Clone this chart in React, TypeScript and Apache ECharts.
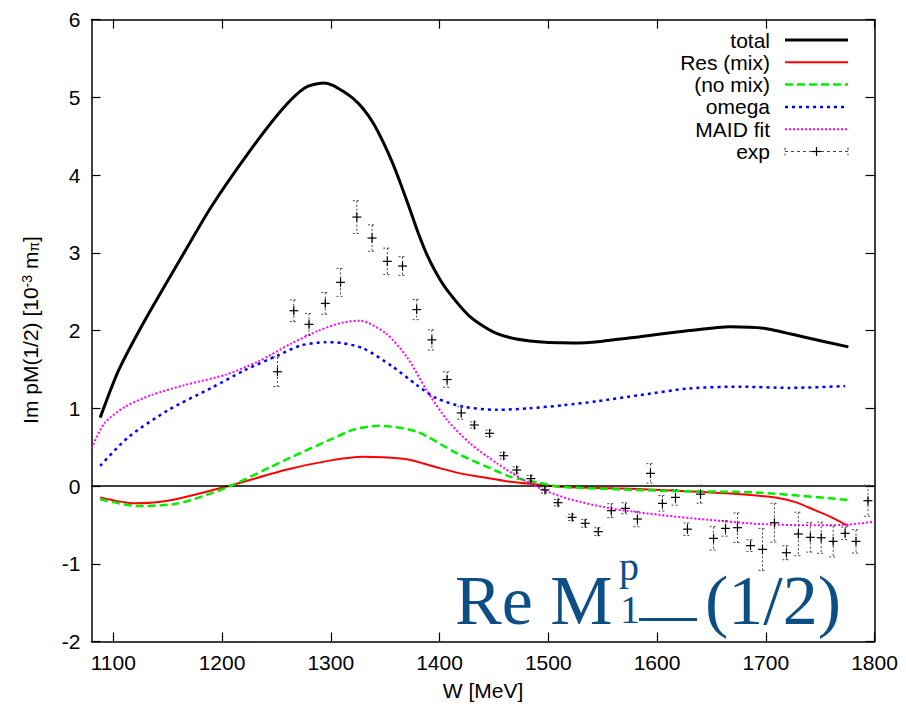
import React, { useEffect, useRef } from "react";
import * as echarts from "echarts";

const xTicks = [1100, 1200, 1300, 1400, 1500, 1600, 1700, 1800];
const yTicks = [-2, -1, 0, 1, 2, 3, 4, 5, 6];

const totalCurve = [
  [1088, 0.88], [1105, 1.49], [1129, 2.13], [1163, 2.95], [1190, 3.59], [1224, 4.28],
  [1255, 4.84], [1276, 5.12], [1293, 5.185], [1302, 5.155], [1311, 5.08], [1321, 4.98],
  [1330, 4.85], [1339, 4.67], [1348, 4.43], [1357, 4.15], [1365, 3.86], [1373, 3.55],
  [1380, 3.27], [1388, 2.99], [1397, 2.74], [1407, 2.52], [1428, 2.18],
  [1453, 1.96], [1483, 1.865], [1523, 1.84], [1548, 1.86], [1584, 1.92], [1630, 2.0],
  [1667, 2.05], [1698, 2.03], [1734, 1.92], [1776, 1.79],
];

const resMixCurve = [
  [1088, -0.146], [1120, -0.223], [1154, -0.18], [1206, 0.0], [1258, 0.206], [1300, 0.33],
  [1330, 0.377], [1348, 0.369], [1370, 0.343], [1385, 0.29], [1400, 0.23], [1419, 0.163],
  [1437, 0.12], [1465, 0.055],
  [1490, 0.02], [1511, -0.009], [1560, -0.03], [1603, -0.05], [1664, -0.094], [1710, -0.15],
  [1728, -0.21], [1745, -0.31], [1760, -0.4], [1776, -0.515],
];

const noMixCurve = [
  [1088, -0.171], [1123, -0.257], [1160, -0.223], [1206, -0.01], [1258, 0.334], [1300, 0.6],
  [1322, 0.73], [1344, 0.776], [1379, 0.7], [1416, 0.42], [1453, 0.19], [1465, 0.12],
  [1492, 0.04], [1511, -0.009], [1603, -0.06], [1695, -0.086], [1776, -0.18],
];

const omegaCurve = [
  [1088, 0.26], [1114, 0.63], [1151, 0.98], [1190, 1.26], [1221, 1.49], [1252, 1.685],
  [1273, 1.81], [1295, 1.85], [1310, 1.84], [1330, 1.77], [1357, 1.535], [1379, 1.3],
  [1397, 1.13], [1422, 1.02], [1453, 0.98], [1483, 1.0], [1514, 1.04], [1545, 1.09],
  [1584, 1.17], [1630, 1.256], [1676, 1.278], [1722, 1.262], [1773, 1.286],
];

const maidCurve = [
  [1080, 0.485], [1092, 0.81], [1111, 1.02], [1135, 1.17], [1166, 1.3], [1203, 1.43],
  [1233, 1.6], [1264, 1.835], [1289, 2.0], [1310, 2.1], [1327, 2.127], [1351, 1.96],
  [1370, 1.66], [1388, 1.235], [1407, 0.85], [1428, 0.55], [1453, 0.29], [1477, 0.08],
  [1499, -0.07], [1520, -0.17], [1557, -0.287], [1603, -0.373], [1649, -0.437],
  [1695, -0.489], [1741, -0.505], [1771, -0.5], [1800, -0.46],
];

// [W, value, error]
const expData = [
  [1251, 1.47, 0.19], [1266, 2.255, 0.14], [1280, 2.08, 0.14], [1295, 2.35, 0.14],
  [1309, 2.62, 0.18], [1324, 3.46, 0.21], [1338, 3.19, 0.17], [1352, 2.89, 0.17],
  [1366, 2.83, 0.12], [1379, 2.27, 0.13], [1393, 1.88, 0.13], [1407, 1.37, 0.1],
  [1420, 0.94, 0.08], [1432, 0.785, 0.04], [1446, 0.678, 0.04], [1459, 0.39, 0.04],
  [1471, 0.206, 0.04], [1484, 0.095, 0.04], [1497, -0.05, 0.04], [1509, -0.214, 0.04],
  [1522, -0.403, 0.04], [1534, -0.48, 0.05], [1546, -0.587, 0.05], [1558, -0.317, 0.09],
  [1571, -0.287, 0.07], [1582, -0.424, 0.1], [1594, 0.163, 0.125], [1605, -0.223, 0.1],
  [1617, -0.146, 0.1], [1628, -0.555, 0.08], [1640, -0.105, 0.115], [1652, -0.673, 0.15],
  [1663, -0.545, 0.1], [1674, -0.536, 0.19], [1686, -0.767, 0.075], [1697, -0.815, 0.27],
  [1708, -0.472, 0.25], [1719, -0.858, 0.09], [1730, -0.617, 0.28], [1741, -0.66, 0.19],
  [1751, -0.665, 0.2], [1762, -0.712, 0.2], [1773, -0.609, 0.08], [1783, -0.712, 0.15],
  [1794, -0.189, 0.2],
];

const legendNames = ["total", "Res (mix)", "(no mix)", "omega", "MAID fit", "exp"];

const FONT = "Liberation Sans, Arial, sans-serif";
const SERIF = "Liberation Serif, Times New Roman, serif";
const BLUE_TXT = "#0d4f85";

export default function App() {
  const ref = useRef<HTMLDivElement>(null);
  useEffect(() => {
    document.body.style.margin = "0";
    const chart = echarts.init(ref.current!, null, { renderer: "svg" });

    const lineStyles: any[] = [
      { color: "#000000", width: 3, type: "solid" },
      { color: "#ff0000", width: 2, type: "solid" },
      { color: "#00ee00", width: 2.5, type: [8, 4] },
      { color: "#0000ff", width: 2.5, type: [3, 4] },
      { color: "#ff00ff", width: 2, type: [2, 2] },
    ];
    const curves = [totalCurve, resMixCurve, noMixCurve, omegaCurve, maidCurve];

    const axisCommon = {
      type: "value",
      axisLine: { show: true, onZero: false, lineStyle: { color: "#000", width: 1.5 } },
      splitLine: { show: false },
    };

    const legendX = 770;
    const legendY0 = 40;
    const legendStep = 22.3;
    const legendGraphics: any[] = [];
    legendNames.forEach((name, i) => {
      const y = legendY0 + i * legendStep;
      legendGraphics.push({
        type: "text",
        x: legendX,
        y,
        style: { text: name, font: `21px ${FONT}`, fill: "#000", align: "right", verticalAlign: "middle" },
        z: 100,
      });
      if (i < 5) {
        const ls = lineStyles[i];
        legendGraphics.push({
          type: "line",
          shape: { x1: 785, y1: y, x2: 848, y2: y },
          style: {
            stroke: ls.color,
            lineWidth: ls.width,
            lineDash: Array.isArray(ls.type) ? ls.type : null,
          },
          z: 100,
        });
      } else {
        const ds = { stroke: "#444", lineWidth: 1, lineDash: [3, 3] };
        legendGraphics.push(
          { type: "line", shape: { x1: 785, y1: y, x2: 848, y2: y }, style: ds, z: 100 },
          { type: "line", shape: { x1: 785, y1: y - 4, x2: 785, y2: y + 4 }, style: ds, z: 100 },
          { type: "line", shape: { x1: 848, y1: y - 4, x2: 848, y2: y + 4 }, style: ds, z: 100 },
          { type: "line", shape: { x1: 812, y1: y, x2: 821, y2: y }, style: { stroke: "#000", lineWidth: 1.2 }, z: 100 },
          { type: "line", shape: { x1: 816.5, y1: y - 4.5, x2: 816.5, y2: y + 4.5 }, style: { stroke: "#000", lineWidth: 1.2 }, z: 100 }
        );
      }
    });

    const option: any = {
      animation: false,
      backgroundColor: "#ffffff",
      grid: { left: 91.5, right: 31.5, top: 19.6, bottom: 68.5, show: false },
      xAxis: [
        {
          ...axisCommon,
          min: 1080,
          max: 1800,
          position: "bottom",
          axisTick: { inside: true, length: 9, customValues: xTicks, lineStyle: { color: "#000", width: 1.2 } },
          axisLabel: {
            customValues: xTicks,
            color: "#000",
            fontSize: 21,
            fontFamily: FONT,
            margin: 10,
            formatter: (v: number) => String(v),
          },
          name: "W [MeV]",
          nameLocation: "middle",
          nameGap: 38,
          nameTextStyle: { color: "#000", fontSize: 21, fontFamily: FONT },
        },
        {
          ...axisCommon,
          min: 1080,
          max: 1800,
          position: "top",
          axisTick: { inside: true, length: 9, customValues: xTicks, lineStyle: { color: "#000", width: 1.2 } },
          axisLabel: { show: false },
        },
      ],
      yAxis: [
        {
          ...axisCommon,
          min: -2,
          max: 6,
          interval: 1,
          position: "left",
          axisTick: { inside: true, length: 9, customValues: yTicks, lineStyle: { color: "#000", width: 1.2 } },
          axisLabel: { customValues: yTicks, color: "#000", fontSize: 21, fontFamily: FONT, margin: 11 },
        },
        {
          ...axisCommon,
          min: -2,
          max: 6,
          interval: 1,
          position: "right",
          axisTick: { inside: true, length: 9, customValues: yTicks, lineStyle: { color: "#000", width: 1.2 } },
          axisLabel: { show: false },
        },
      ],
      series: [
        ...curves.map((data, i) => ({
          type: "line",
          name: legendNames[i],
          data,
          xAxisIndex: 0,
          yAxisIndex: 0,
          showSymbol: false,
          symbol: "none",
          smooth: 0.25,
          lineStyle: lineStyles[i],
          z: 3 + i,
          markLine:
            i === 0
              ? {
                  silent: true,
                  symbol: "none",
                  label: { show: false },
                  lineStyle: { color: "#000", width: 1.5, type: "solid" },
                  data: [{ yAxis: 0 }],
                }
              : undefined,
        })),
        {
          type: "custom",
          name: "exp",
          data: expData,
          xAxisIndex: 0,
          yAxisIndex: 0,
          encode: { x: 0, y: 1 },
          z: 10,
          renderItem: (params: any, api: any) => {
            const x = api.value(0);
            const y = api.value(1);
            const e = api.value(2);
            const c = api.coord([x, y]);
            const top = api.coord([x, y + e]);
            const bot = api.coord([x, y - e]);
            const cap = 4;
            const s = 4.5;
            const ds = { stroke: "#444", lineWidth: 1, lineDash: [2, 2], fill: null };
            const ps = { stroke: "#000", lineWidth: 1.2 };
            return {
              type: "group",
              children: [
                { type: "line", shape: { x1: c[0], y1: top[1], x2: c[0], y2: bot[1] }, style: ds },
                { type: "line", shape: { x1: c[0] - cap, y1: top[1], x2: c[0] + cap, y2: top[1] }, style: ds },
                { type: "line", shape: { x1: c[0] - cap, y1: bot[1], x2: c[0] + cap, y2: bot[1] }, style: ds },
                { type: "line", shape: { x1: c[0] - s, y1: c[1], x2: c[0] + s, y2: c[1] }, style: ps },
                { type: "line", shape: { x1: c[0], y1: c[1] - s, x2: c[0], y2: c[1] + s }, style: ps },
              ],
            };
          },
        },
      ],
      graphic: [
        {
          type: "text",
          x: 30,
          y: 330,
          rotation: Math.PI / 2,
          style: {
            text: "Im pM(1/2) [10{sup|-3} m{sub|π}]",
            font: `21px ${FONT}`,
            fill: "#000",
            align: "center",
            verticalAlign: "middle",
            rich: {
              sup: { fontSize: 14, fontFamily: FONT, verticalAlign: "top", fill: "#000" },
              sub: { fontSize: 14, fontFamily: FONT, verticalAlign: "bottom", fill: "#000" },
            },
          },
        },
        ...legendGraphics,
        {
          type: "text",
          x: 455,
          y: 600,
          style: { text: "Re M", font: `70px ${SERIF}`, fill: BLUE_TXT, align: "left", verticalAlign: "middle" },
          z: 50,
        },
        {
          type: "text",
          x: 619,
          y: 566,
          style: { text: "p", font: `40px ${SERIF}`, fill: BLUE_TXT, align: "left", verticalAlign: "middle" },
          z: 50,
        },
        {
          type: "text",
          x: 620,
          y: 609,
          style: { text: "1", font: `40px ${SERIF}`, fill: BLUE_TXT, align: "left", verticalAlign: "middle" },
          z: 50,
        },
        {
          type: "rect",
          shape: { x: 639, y: 618, width: 58, height: 3 },
          style: { fill: BLUE_TXT },
          z: 50,
        },
        {
          type: "text",
          x: 705,
          y: 600,
          style: { text: "(1/2)", font: `70px ${SERIF}`, fill: BLUE_TXT, align: "left", verticalAlign: "middle" },
          z: 50,
        },
      ],
    };
    chart.setOption(option);
    return () => chart.dispose();
  }, []);
  return <div ref={ref} style={{ width: 906, height: 710 }} />;
}
